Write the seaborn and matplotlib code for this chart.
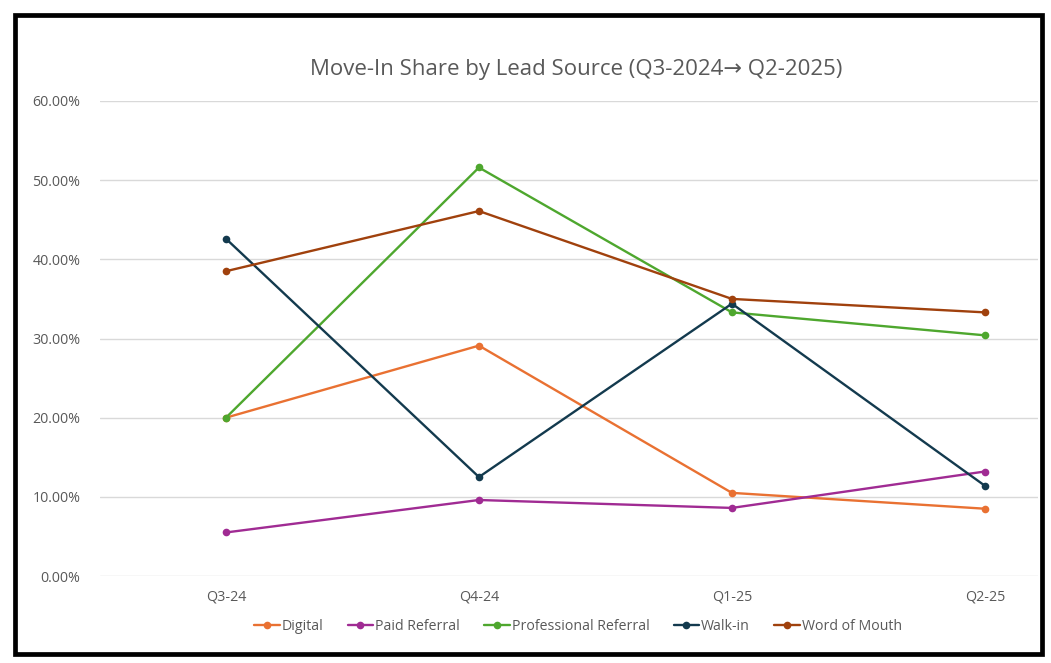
import matplotlib
matplotlib.use("Agg")
import matplotlib.pyplot as plt
import matplotlib.patches as mpatches
from matplotlib.ticker import PercentFormatter
import seaborn as sns
import pandas as pd

quarters = ["Q3-24", "Q4-24", "Q1-25", "Q2-25"]
digital = [0.200, 0.291, 0.105, 0.085]
paid_referral = [0.055, 0.096, 0.086, 0.132]
professional_referral = [0.200, 0.516, 0.333, 0.304]
walk_in = [0.426, 0.125, 0.344, 0.114]
word_of_mouth = [0.385, 0.461, 0.350, 0.333]

series_names = ["Digital", "Paid Referral", "Professional Referral", "Walk-in", "Word of Mouth"]
series_values = [digital, paid_referral, professional_referral, walk_in, word_of_mouth]
colors = ["#E97132", "#A02B93", "#4EA72E", "#133A4E", "#A0410D"]
y_ticks = [0.0, 0.1, 0.2, 0.3, 0.4, 0.5, 0.6]

rows = []
for name, vals in zip(series_names, series_values):
    for q, v in zip(quarters, vals):
        rows.append({"Quarter": q, "Share": v, "Source": name})
df = pd.DataFrame(rows)

sns.set_theme(style="white")
plt.rcParams["font.family"] = ["Open Sans", "DejaVu Sans"]

fig = plt.figure(figsize=(10.51, 6.63), dpi=100)
ax = fig.add_axes([100/1051, 1-576/663, (1038-100)/1051, (576-101)/663])

sns.lineplot(data=df, x="Quarter", y="Share", hue="Source", hue_order=series_names,
             palette=colors, marker="o", markersize=5.5, markeredgewidth=0,
             linewidth=1.7, sort=False, ax=ax, legend=True)

ax.set_xlim(-0.498, 3.21)
ax.set_ylim(0, 0.6)
ax.set_yticks(y_ticks)
ax.yaxis.set_major_formatter(PercentFormatter(1.0, decimals=2))
ax.grid(axis="y", color="#D9D9D9", linewidth=1)
ax.grid(axis="x", visible=False)
ax.set_axisbelow(True)
for s in ax.spines.values():
    s.set_visible(False)
ax.tick_params(axis="both", length=0, labelsize=10.3, colors="#595959")
ax.tick_params(axis="y", pad=14)
ax.tick_params(axis="x", pad=10)
ax.set_xlabel("")
ax.set_ylabel("")

handles, labels = ax.get_legend_handles_labels()
ax.get_legend().remove()
fig.legend(handles, labels, loc="center", bbox_to_anchor=(578/1051, 1-626/663),
           ncol=5, frameon=False, fontsize=10.2, labelcolor="#595959",
           handlelength=1.8, handletextpad=0.15, columnspacing=1.7)

fig.text(576/1051, 1-70/663, "Move-In Share by Lead Source (Q3-2024\u2192 Q2-2025)",
         ha="center", va="center", fontsize=16, color="#595959")

fig.patches.append(mpatches.Rectangle((15/1051, 1-654/663), (1042-15)/1051, (654-15)/663,
                                      transform=fig.transFigure, fill=False,
                                      edgecolor="black", linewidth=3.4))

fig.savefig("out.png", dpi=100, facecolor="white")
